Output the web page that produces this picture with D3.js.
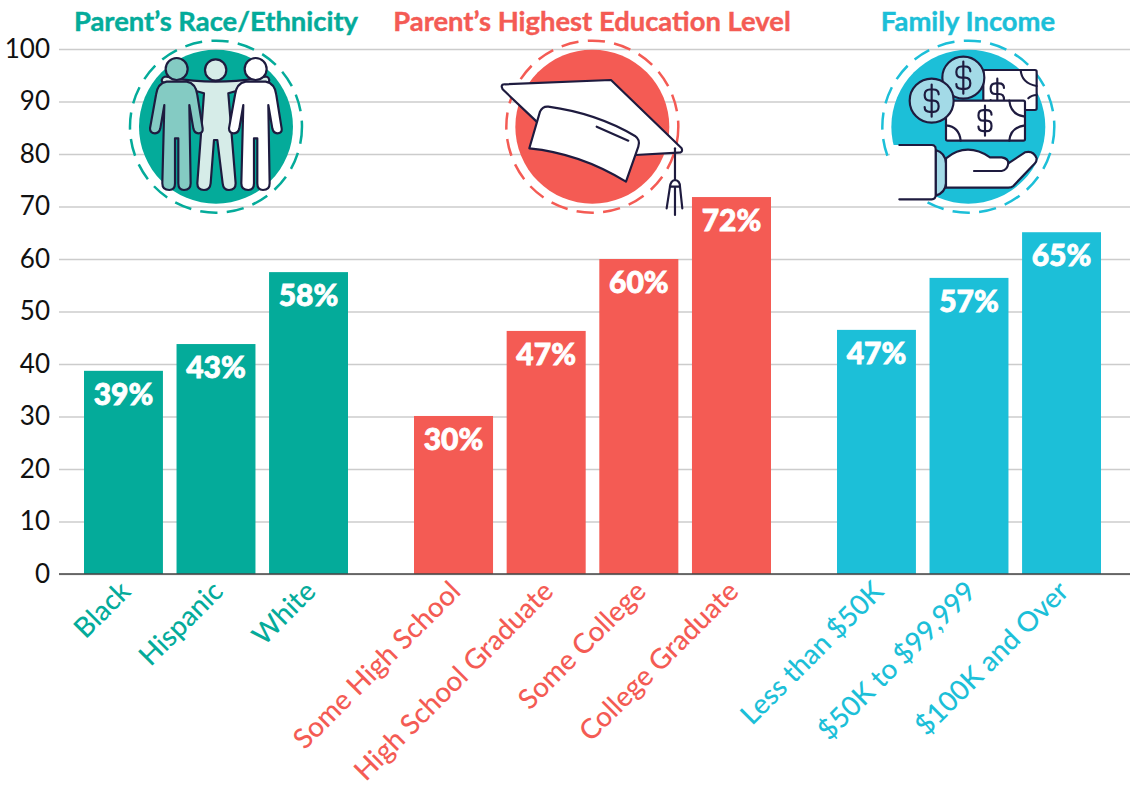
<!DOCTYPE html>
<html lang="en">
<head>
    <meta charset="UTF-8">
    <title>Outcomes by parent's race, education and family income</title>
    <style>
        body { margin: 0; background: #fff; }
        svg { display: block; }
        text { font-family: Lato, 'Open Sans', sans-serif; }
        .tick line { stroke: #cccccc; stroke-width: 1.5; }
        .y-axis .tick text { font-size: 26px; fill: #111; font-family: Lato, sans-serif; }
        .cat-axis .tick text { font-size: 27.8px; font-weight: 500; }
    </style>
</head>
<body>
    <svg width="1130" height="786"></svg>
    <script src="https://d3js.org/d3.v7.min.js"></script>
    <script>
        // Data
        var raceCats = ["Black", "Hispanic", "White"];
        var raceVals = [38.7, 43.8, 57.5];
        var raceLabels = ["39%", "43%", "58%"];

        var eduCats = ["Some High School", "High School Graduate", "Some College", "College Graduate"];
        var eduVals = [30.1, 46.3, 60, 71.8];
        var eduLabels = ["30%", "47%", "60%", "72%"];

        var incomeCats = ["Less than $50K", "$50K to $99,999", "$100K and Over"];
        var incomeVals = [46.5, 56.4, 65.1];
        var incomeLabels = ["47%", "57%", "65%"];

        var yTicks = [0, 10, 20, 30, 40, 50, 60, 70, 80, 90, 100];

        var teal = "#04ab9a", coral = "#f45b54", blue = "#1cbfd8", ink = "#1e1b3f";

        var svg = d3.select("svg");

        var y = d3.scaleLinear().domain([0, 100]).range([574, 49]);

        // Gridlines and y labels
        svg.append("g")
            .attr("class", "y-axis")
            .attr("transform", "translate(59,0)")
            .call(d3.axisLeft(y).tickValues(yTicks).tickSize(-1071).tickPadding(9))
            .call(function(g) { g.select(".domain").remove(); });

        // One group of bars per panel
        function drawGroup(title, cats, vals, labels, color, range, titleX) {
            var x = d3.scaleBand().domain(cats).range(range).paddingInner(0.147);

            svg.append("text")
                .attr("x", titleX)
                .attr("y", 31)
                .attr("text-anchor", "middle")
                .attr("font-size", "27.4px")
                .attr("font-weight", 700)
                .attr("fill", color)
                .attr("stroke", color)
                .attr("stroke-width", 0.4)
                .text(title);

            var g = svg.append("g");
            g.selectAll("rect")
                .data(cats)
                .enter().append("rect")
                .attr("x", function(d) { return x(d); })
                .attr("y", function(d, i) { return y(vals[i]); })
                .attr("width", x.bandwidth())
                .attr("height", function(d, i) { return y(0) - y(vals[i]); })
                .attr("fill", color);

            g.selectAll("text")
                .data(cats)
                .enter().append("text")
                .attr("x", function(d) { return x(d) + x.bandwidth() / 2; })
                .attr("y", function(d, i) { return y(vals[i]) + 34; })
                .attr("text-anchor", "middle")
                .attr("font-size", "30px")
                .attr("font-weight", 900)
                .attr("fill", "#fff")
                .attr("stroke", "#fff")
                .attr("stroke-width", 0.8)
                .text(function(d, i) { return labels[i]; });

            var axis = svg.append("g")
                .attr("class", "cat-axis")
                .attr("transform", "translate(0,574)")
                .call(d3.axisBottom(x).tickSize(0));
            axis.select(".domain").remove();
            axis.selectAll(".tick text")
                .attr("fill", color)
                .attr("text-anchor", "end")
                .attr("dx", "0.45em")
                .attr("dy", "0.6em")
                .attr("transform", "translate(-14,14) rotate(-45)");
        }

        drawGroup("Parent\u2019s Race/Ethnicity", raceCats, raceVals, raceLabels, teal, [84, 348], 216);
        drawGroup("Parent\u2019s Highest Education Level", eduCats, eduVals, eduLabels, coral, [414, 771], 592);
        drawGroup("Family Income", incomeCats, incomeVals, incomeLabels, blue, [837, 1101], 968);

        // Baseline
        svg.append("line")
            .attr("x1", 59).attr("x2", 1130)
            .attr("y1", y(0)).attr("y2", y(0))
            .attr("stroke", "#444").attr("stroke-width", 1.5);

        // Icons, drawn at 3x and scaled down
        function icon(ox, oy) {
            return svg.append("g").attr("transform", "translate(" + ox + "," + oy + ") scale(0.3333)");
        }
        function badge(g, cx, cy, color) {
            g.append("circle").attr("cx", cx).attr("cy", cy).attr("r", 231).attr("fill", color);
            g.append("circle").attr("cx", cx).attr("cy", cy).attr("r", 258)
                .attr("fill", "none").attr("stroke", color).attr("stroke-width", 7.5)
                .attr("stroke-dasharray", "52 28");
        }
        function shape(g, d, fill, w) {
            return g.append("path").attr("d", d).attr("fill", fill || "none")
                .attr("stroke", ink).attr("stroke-width", w || 6.5)
                .attr("stroke-linejoin", "round").attr("stroke-linecap", "round");
        }

        // People
        var people = icon(60, 0);
        badge(people, 468, 380, teal);

        shape(people, "M305 240 Q310 225 330 232 Q400 245 467 245 Q540 245 605 232 Q625 225 628 240 Q628 250 610 250 L505 280 L527 550 Q527 570 507 570 Q490 570 488 550 L472 420 L462 420 L452 550 Q450 570 432 570 Q412 570 412 550 L432 280 L325 250 Q305 250 305 240 Z", "#d6ece8");

        function person(dx, fill) {
            var g = people.append("g").attr("transform", "translate(" + dx + ",0)");
            shape(g, "M320 245 Q292 250 288 285 L270 385 Q270 400 285 400 Q298 400 301 385 L313 315 L307 550 Q307 570 328 570 Q345 570 345 550 L345 415 L355 415 L355 550 Q355 570 372 570 Q392 570 392 550 L388 315 L400 385 Q403 400 415 400 Q430 400 428 385 L412 285 Q408 250 380 245 Z", fill);
            g.append("circle").attr("cx", 350).attr("cy", 207).attr("r", 33)
                .attr("fill", fill).attr("stroke", ink).attr("stroke-width", 6.5);
        }
        people.append("circle").attr("cx", 467).attr("cy", 210).attr("r", 32)
            .attr("fill", "#d6ece8").attr("stroke", ink).attr("stroke-width", 6.5);
        person(0, "#84cbc3");
        person(237, "#fff");

        // Graduation cap
        var cap = icon(480, 30);
        badge(cap, 337, 290, coral);
        shape(cap, "M65 170 Q65 162 75 163 L393 150 L605 355 Q610 368 595 368 L465 375 L170 275 L68 178 Z", "#fff");
        shape(cap, "M148 355 L180 245 Q188 228 205 230 Q350 250 465 318 Q482 330 475 350 L438 455 Q300 370 148 355 Z", "#fff");
        shape(cap, "M350 290 L445 332");
        shape(cap, "M585 355 L585 555");
        shape(cap, "M570 470 Q572 452 585 450 Q600 452 600 470 Z", "#fff");
        shape(cap, "M570 470 L560 535 M600 470 L607 535");

        // Money and hand
        var money = icon(870, 30);
        badge(money, 295, 290, blue);

        function dollar(g, cx, cy, k) {
            var d = "M" + (cx + 20 * k) + " " + (cy - 18 * k)
                + " Q" + (cx + 20 * k) + " " + (cy - 32 * k) + " " + (cx + 5 * k) + " " + (cy - 32 * k)
                + " L" + (cx - 5 * k) + " " + (cy - 32 * k)
                + " Q" + (cx - 20 * k) + " " + (cy - 32 * k) + " " + (cx - 20 * k) + " " + (cy - 16 * k)
                + " Q" + (cx - 20 * k) + " " + cy + " " + (cx - 5 * k) + " " + cy
                + " L" + (cx + 5 * k) + " " + cy
                + " Q" + (cx + 20 * k) + " " + cy + " " + (cx + 20 * k) + " " + (cy + 16 * k)
                + " Q" + (cx + 20 * k) + " " + (cy + 32 * k) + " " + (cx + 5 * k) + " " + (cy + 32 * k)
                + " L" + (cx - 5 * k) + " " + (cy + 32 * k)
                + " Q" + (cx - 20 * k) + " " + (cy + 32 * k) + " " + (cx - 20 * k) + " " + (cy + 18 * k)
                + " M" + cx + " " + (cy - 46 * k) + " L" + cx + " " + (cy + 46 * k);
            shape(g, d);
        }
        function bill(g, x0, y0, x1, y1) {
            g.append("rect").attr("x", x0).attr("y", y0).attr("width", x1 - x0).attr("height", y1 - y0)
                .attr("rx", 5).attr("fill", "#fff").attr("stroke", ink).attr("stroke-width", 6.5);
        }

        bill(money, 340, 120, 500, 240);
        dollar(money, 382, 192, 1);
        shape(money, "M452 120 Q455 160 500 168 M475 205 Q485 195 500 195");
        bill(money, 228, 212, 465, 332);
        dollar(money, 345, 272, 0.98);
        shape(money, "M418 212 Q422 255 465 260 M228 286 Q268 290 272 332 M418 332 Q422 292 465 286");

        money.append("circle").attr("cx", 280).attr("cy", 143).attr("r", 63)
            .attr("fill", "#a3dae7").attr("stroke", ink).attr("stroke-width", 6.5);
        dollar(money, 280, 143, 1.05);
        money.append("circle").attr("cx", 185).attr("cy", 212).attr("r", 66)
            .attr("fill", "#a3dae7").attr("stroke", ink).attr("stroke-width", 6.5);
        dollar(money, 185, 212, 1.05);

        shape(money, "M197 360 Q226 368 228 400 L228 460 Q226 488 197 497 Z", "#a3dae7");
        money.append("rect").attr("x", 60).attr("y", 345).attr("width", 137).attr("height", 163).attr("fill", "#fff");
        shape(money, "M88 345 L185 345 Q197 345 197 357 L197 496 Q197 508 185 508 L88 508");
        shape(money, "M228 385 Q290 335 360 382 L395 382 Q415 385 415 400 L465 367 Q490 360 500 385 Q500 395 495 400 L430 468 Q425 473 415 473 L228 473 Z", "#fff");
        shape(money, "M312 423 L395 423 Q412 420 415 400");
    </script>
</body>
</html>
